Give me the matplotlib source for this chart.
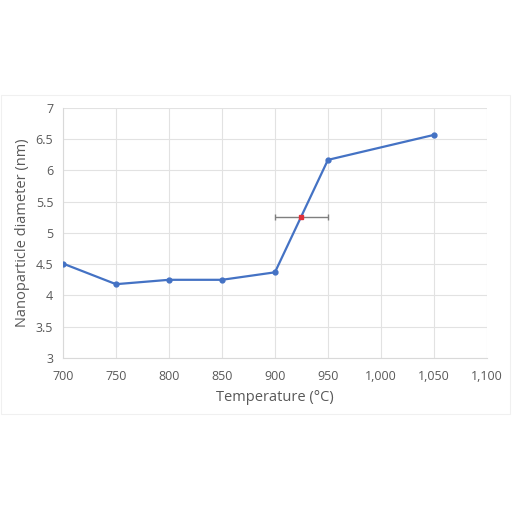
import matplotlib
matplotlib.use("Agg")
import matplotlib.pyplot as plt
from matplotlib.patches import Rectangle
from matplotlib.ticker import FuncFormatter

# Data
temps = [700, 750, 800, 850, 900, 950, 1050]
diam = [4.51, 4.18, 4.25, 4.25, 4.37, 6.17, 6.57]
mid_temp = [925]
mid_diam = [5.25]
mid_err = [25]

plt.rcParams['font.family'] = ['Open Sans', 'DejaVu Sans']

fig = plt.figure(figsize=(5.12, 5.12), dpi=100)
ax = fig.add_axes([0.123, 0.301, 0.828, 0.488])

# faint chart frame
fig.patches.append(Rectangle((0.002, 0.191), 0.994, 0.624, transform=fig.transFigure,
                             fill=False, edgecolor='#f0f0f0', lw=0.8))

ax.plot(temps, diam, color='#4472C4', lw=1.6, marker='o', ms=3.5, zorder=3)
ax.errorbar(mid_temp, mid_diam, xerr=mid_err, fmt='s', color='#e0303a', ms=3,
            ecolor='#7f7f7f', elinewidth=1.0, capsize=2.5, capthick=1.0, zorder=4)

ax.set_xlim(700, 1100)
ax.set_ylim(3, 7)
ax.set_xticks(range(700, 1101, 50))
ax.set_yticks([3, 3.5, 4, 4.5, 5, 5.5, 6, 6.5, 7])
ax.xaxis.set_major_formatter(FuncFormatter(lambda v, p: f"{int(v):,}"))
ax.yaxis.set_major_formatter(FuncFormatter(lambda v, p: f"{v:g}"))
ax.grid(True, color='#e2e2e2', lw=0.8)
ax.set_axisbelow(True)
for s in ['top', 'right']:
    ax.spines[s].set_visible(False)
for s in ['left', 'bottom']:
    ax.spines[s].set_color('#d9d9d9')
ax.tick_params(length=0, colors='#595959', labelsize=9)
ax.tick_params(axis='x', pad=9)
ax.tick_params(axis='y', pad=7)
ax.set_xlabel('Temperature (°C)', color='#595959', fontsize=10.5, labelpad=5)
ax.set_ylabel('Nanoparticle diameter (nm)', color='#595959', fontsize=10.5, labelpad=4)

fig.savefig('out.png', dpi=100, facecolor='white')
